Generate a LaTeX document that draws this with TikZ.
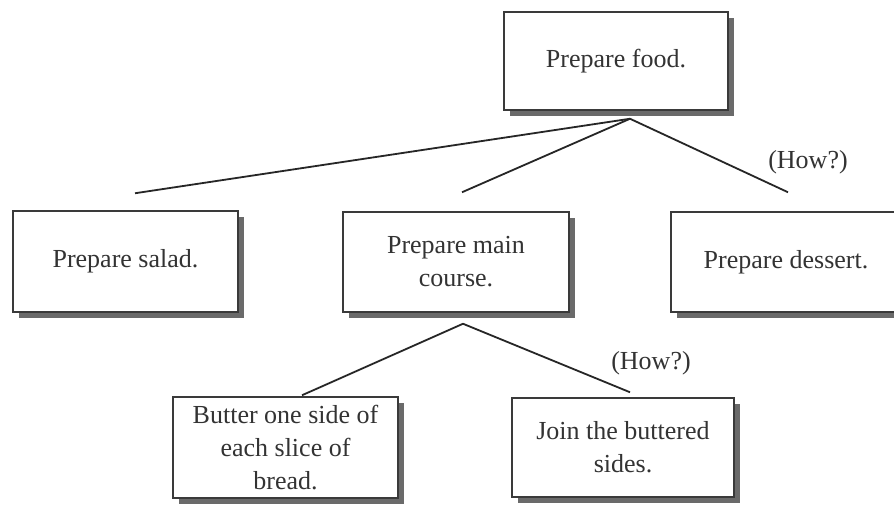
\documentclass[tikz,border=0pt]{standalone}
\usepackage{fontspec}
\setmainfont{Liberation Serif}
\usetikzlibrary{shadows}
\definecolor{inkgray}{HTML}{333333}
\definecolor{edgegray}{HTML}{3A3A3A}
\definecolor{shadegray}{HTML}{6A6A6A}
\begin{document}
\begin{tikzpicture}[x=1pt,y=-1pt,
  task/.style={draw=edgegray, line width=1.5pt, fill=white, inner sep=0pt,
    align=center, text=inkgray, font=\fontsize{26}{33}\selectfont,
    drop shadow={shadow xshift=6pt, shadow yshift=-6pt, fill=shadegray, opacity=1}},
  link/.style={draw=black!85, line width=1.8pt},
  note/.style={text=inkgray, font=\fontsize{26}{33}\selectfont, inner sep=0pt}]
  \clip (0,0) rectangle (894,504);
  \fill[white] (0,0) rectangle (894,504);

  % task boxes
  \node[task, minimum width=224pt, minimum height=98pt] (root) at (616,61) {Prepare food.};
  \node[task, minimum width=225pt, minimum height=101pt] (salad) at (125.5,261.5) {Prepare salad.};
  \node[task, minimum width=226pt, minimum height=100pt] (main) at (456,262) {Prepare main\\course.};
  \node[task, minimum width=230pt, minimum height=100pt] (dessert) at (786,262) {Prepare dessert.};
  \node[task, minimum width=225pt, minimum height=101pt] (butter) at (285.5,447.5) {Butter one side of\\each slice of\\bread.};
  \node[task, minimum width=222pt, minimum height=99pt] (join) at (623,447.5) {Join the buttered\\sides.};

  % branch points and free line ends
  \coordinate (rootapex) at ([xshift=14pt,yshift=-8pt]root.south);
  \coordinate (saladend) at ([xshift=9.5pt,yshift=17pt]salad.north);
  \coordinate (mainend) at ([xshift=6pt,yshift=19pt]main.north);
  \coordinate (dessertend) at ([xshift=2pt,yshift=19pt]dessert.north);
  \coordinate (mainapex) at ([xshift=7pt,yshift=-11pt]main.south);
  \coordinate (butterend) at ([xshift=16.5pt,yshift=1pt]butter.north);
  \coordinate (joinend) at ([xshift=7pt,yshift=5pt]join.north);

  % decomposition lines
  \draw[link] (rootapex) -- (saladend);
  \draw[link] (rootapex) -- (mainend);
  \draw[link] (rootapex) -- (dessertend);
  \draw[link] (mainapex) -- (butterend);
  \draw[link] (mainapex) -- (joinend);

  % labels
  \node[note] (how1) at (808,162) {(How?)};
  \node[note] (how2) at (651,363) {(How?)};
\end{tikzpicture}
\end{document}
